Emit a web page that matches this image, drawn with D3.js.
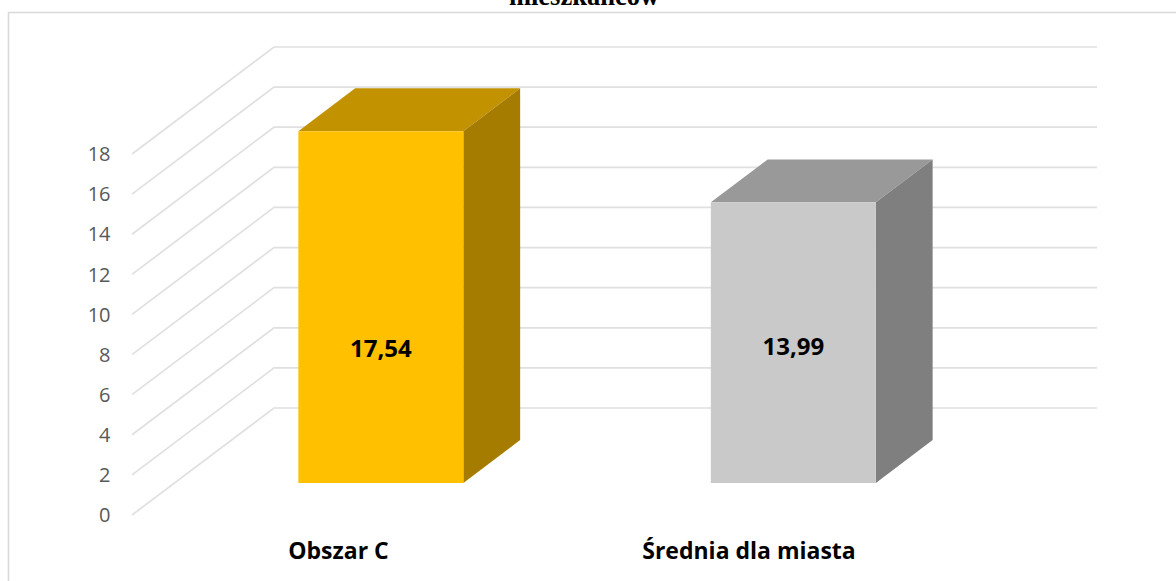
<!DOCTYPE html>
<html><head><meta charset="utf-8">
<script src="https://cdn.jsdelivr.net/npm/d3@7"></script>
<style>html,body{margin:0;padding:0;background:#fff;overflow:hidden}svg{display:block}</style>
</head><body><div id="c"></div>
<script>
const categories = ["Obszar C", "Średnia dla miasta"];
const values = [17.54, 13.99];
const valueLabels = ["17,54", "13,99"];
const frontColors = ["#FFC000", "#C9C9C9"];
const topColors = ["#C29200", "#999999"];
const sideColors = ["#A67C00", "#7F7F7F"];
const ticks = [0, 2, 4, 6, 8, 10, 12, 14, 16, 18];
const titleText = "mieszkańców";

const W = 1176, H = 581;
const svg = d3.select("#c").append("svg").attr("width", W).attr("height", H);
const y = d3.scaleLinear().domain([0, 18]).range([515, 154]);
const x = d3.scaleBand().domain(categories).range([0, 825]).paddingInner(0.6).paddingOuter(0.3);
const depth = d3.scaleLinear().domain([0, 1]).range([0, 142]);
const rise = d3.scaleLinear().domain([0, 1]).range([0, -107]);
const frontX = 132, gridW = 823;
const px = (u, f) => frontX + depth(f) + u;
const py = (v, f) => y(v) + rise(f);
const f0 = 0.3, f1 = 0.7;

svg.append("path").attr("d", `M8.5,${H + 5}V12.5H${W + 5}`).attr("fill", "none").attr("stroke", "#D9D9D9").attr("stroke-width", 1.6);

svg.append("text").attr("x", 584).attr("y", 5).attr("text-anchor", "middle")
  .attr("font-family", "'Liberation Serif'").attr("font-weight", "bold").attr("font-size", 26.5).attr("fill", "#000").text(titleText);

const line = d3.line();
svg.append("g").selectAll("path").data(ticks).join("path")
  .attr("d", t => line([[px(0, 0), py(t, 0)], [px(0, 1), py(t, 1)], [px(gridW, 1), py(t, 1)]]))
  .attr("fill", "none").attr("stroke", "#E0E0E0").attr("stroke-width", 1.7);

svg.append("g").selectAll("text").data(ticks).join("text")
  .attr("x", 110.5).attr("y", t => y(t)).attr("dy", "0.36em").attr("text-anchor", "end")
  .attr("font-family", "'Open Sans'").attr("font-size", 20).attr("fill", "#595959").text(t => t);

const bars = svg.append("g").selectAll("g").data(categories).join("g");
const poly = pts => line(pts) + "Z";
bars.append("path").attr("fill", (d, i) => topColors[i]).attr("d", (d, i) => {
  const a = x(d), b = a + x.bandwidth(), v = values[i];
  return poly([[px(a, f0), py(v, f0)], [px(b, f0), py(v, f0)], [px(b, f1), py(v, f1)], [px(a, f1), py(v, f1)]]);
});
bars.append("path").attr("fill", (d, i) => sideColors[i]).attr("d", (d, i) => {
  const b = x(d) + x.bandwidth(), v = values[i];
  return poly([[px(b, f0), py(0, f0)], [px(b, f0), py(v, f0)], [px(b, f1), py(v, f1)], [px(b, f1), py(0, f1)]]);
});
bars.append("path").attr("fill", (d, i) => frontColors[i]).attr("d", (d, i) => {
  const a = x(d), b = a + x.bandwidth(), v = values[i];
  return poly([[px(a, f0), py(0, f0)], [px(b, f0), py(0, f0)], [px(b, f0), py(v, f0)], [px(a, f0), py(v, f0)]]);
});

bars.append("text").attr("x", d => px(x(d) + x.bandwidth() / 2, f0)).attr("y", (d, i) => i === 0 ? 348 : 346)
  .attr("dy", "0.36em").attr("text-anchor", "middle")
  .attr("font-family", "'Open Sans'").attr("font-weight", "bold").attr("font-size", 24).attr("fill", "#000")
  .text((d, i) => valueLabels[i]);

svg.append("g").selectAll("text").data(categories).join("text")
  .attr("x", (d, i) => [338.5, 749][i]).attr("y", 559).attr("text-anchor", "middle")
  .attr("font-family", "'Open Sans'").attr("font-weight", "bold").attr("font-size", 23).attr("fill", "#000").text(d => d);
</script></body></html>
